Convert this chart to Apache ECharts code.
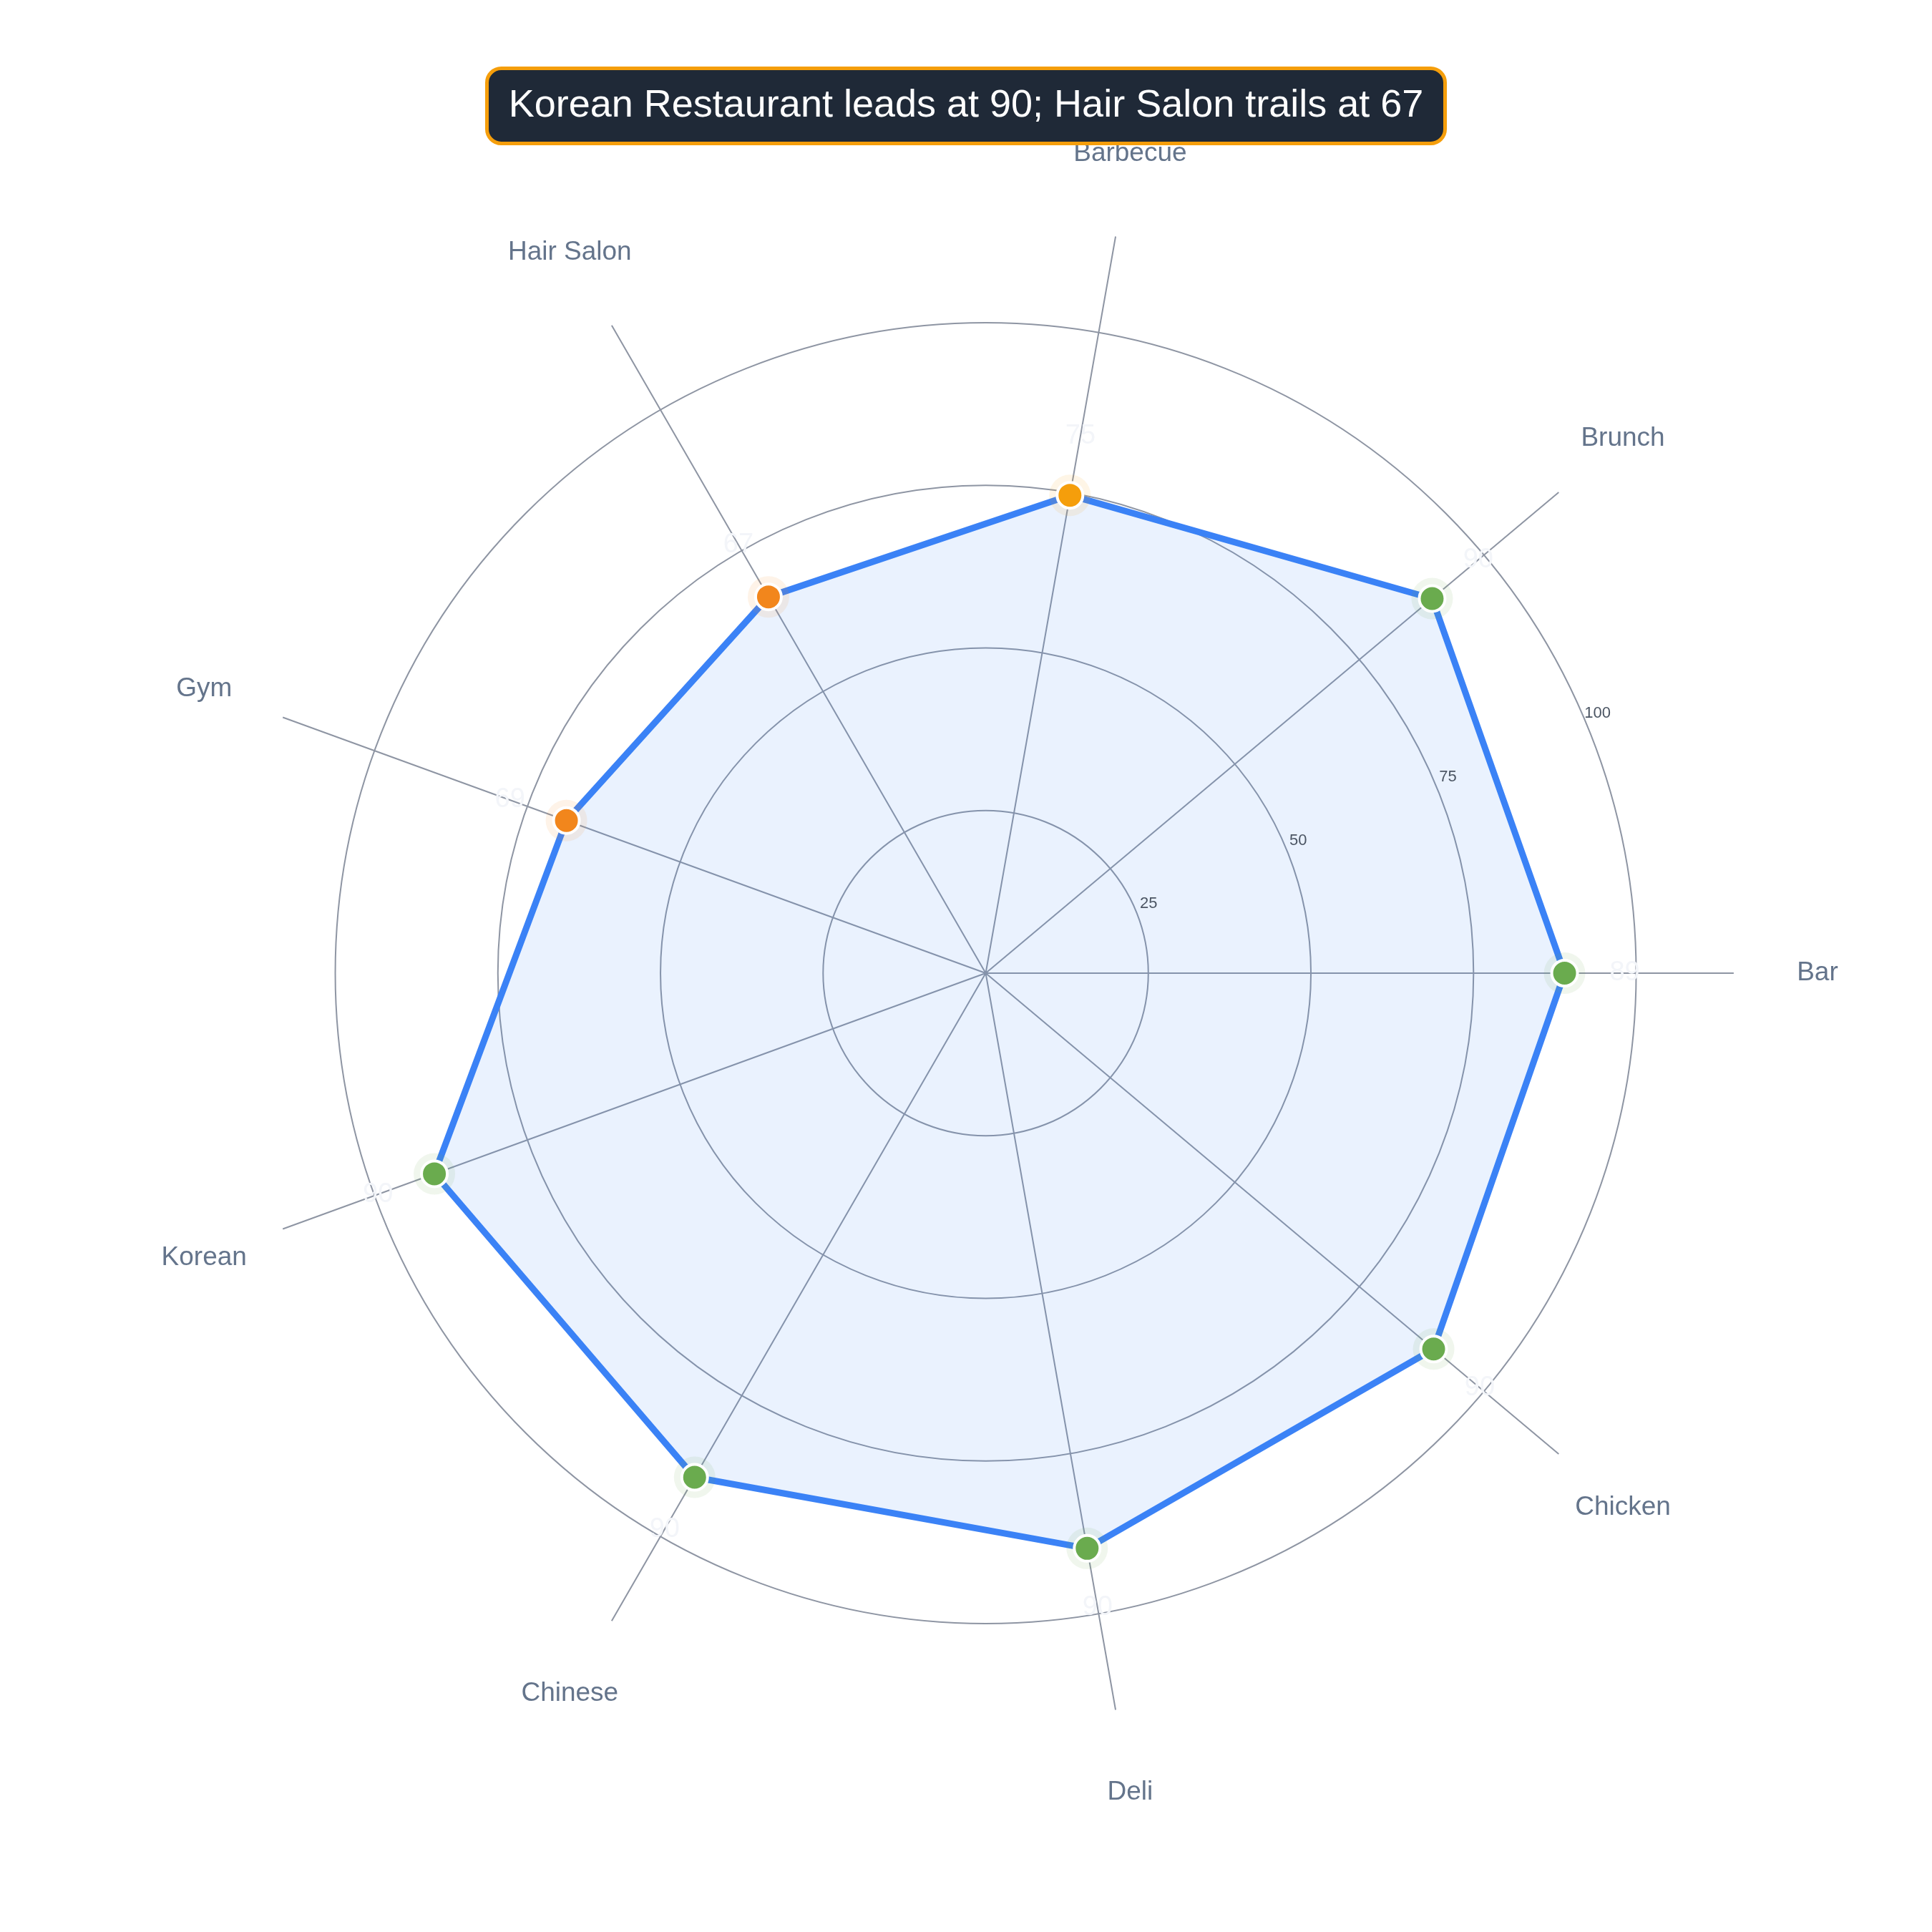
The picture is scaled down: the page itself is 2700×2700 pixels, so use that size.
<!DOCTYPE html>
<html>
<head>
<meta charset="utf-8">
<script src="https://cdn.jsdelivr.net/npm/echarts@6/dist/echarts.min.js"></script>
<style>
html,body{margin:0;padding:0;background:#fff;}
#chart{width:2700px;height:2700px;}
</style>
</head>
<body>
<div id="chart"></div>
<script>
const categories = ['Bar', 'Brunch', 'Barbecue', 'Hair Salon', 'Gym', 'Korean', 'Chinese', 'Deli', 'Chicken'];
const values = [89, 89.6, 74.6, 66.8, 68.6, 90.2, 89.5, 89.8, 89.9];
const radiusTicks = [25, 50, 75, 100];
const titleText = 'Korean Restaurant leads at 90; Hair Salon trails at 67';

const CENTER = ['51.02%', '50.37%'];
const R_RING = 909;     // radius of value 100
const AXIS_MAX = 115;   // spokes extend to this value
const R_SPOKE = R_RING * AXIS_MAX / 100;
const LABEL_RATIO = 1.112; // category labels centred just beyond the spokes
const RADIAL_LABEL_ANGLE = 23;
const FONT = '"Liberation Sans", Arial, Helvetica, sans-serif';

function markerColor(v) {
  if (v >= 80) return '#6AAB4E';
  if (v >= 70) return '#F59E0B';
  return '#F2861C';
}

const step = 360 / categories.length;
const pointData = values.map((v, i) => {
  const a = i * step * Math.PI / 180;
  return {
    value: [v, i],
    itemStyle: { color: markerColor(v) },
    label: { offset: [84 * Math.cos(a), -84 * Math.sin(a)] }
  };
});
const haloData = values.map((v, i) => ({ value: [v, i], itemStyle: { color: markerColor(v) } }));
const catLabelData = categories.map((c, i) => ({ value: [AXIS_MAX * LABEL_RATIO, i], name: c }));
const la = RADIAL_LABEL_ANGLE * Math.PI / 180;
const tickLabelData = radiusTicks.map(t => ({ value: [t, RADIAL_LABEL_ANGLE] }));

const chart = echarts.init(document.getElementById('chart'), null, { renderer: 'canvas' });
chart.setOption({
  backgroundColor: '#ffffff',
  animation: false,
  title: {
    text: titleText,
    left: 'center',
    top: 95,
    padding: [26, 30],
    backgroundColor: '#1F2937',
    borderColor: '#F59E0B',
    borderWidth: 5,
    borderRadius: 20,
    textStyle: { color: '#ffffff', fontSize: 54, fontWeight: 'normal', fontFamily: FONT }
  },
  polar: [
    { center: CENTER, radius: R_SPOKE },
    { center: CENTER, radius: R_RING }
  ],
  angleAxis: [
    {
      polarIndex: 0, type: 'category', data: categories, startAngle: 0, clockwise: false,
      boundaryGap: false,
      axisLine: { show: false }, axisTick: { show: false }, axisLabel: { show: false },
      splitLine: { show: true, lineStyle: { color: '#8E95A3', width: 2 } }
    },
    {
      polarIndex: 1, type: 'value', min: 0, max: 360, startAngle: 0, clockwise: false,
      axisLine: { show: false }, axisTick: { show: false }, axisLabel: { show: false },
      splitLine: { show: false }
    }
  ],
  radiusAxis: [
    {
      polarIndex: 0, type: 'value', min: 0, max: AXIS_MAX,
      axisLine: { show: false }, axisTick: { show: false }, axisLabel: { show: false },
      splitLine: { show: false }
    },
    {
      polarIndex: 1, type: 'value', min: 0, max: 100, interval: 25,
      axisLine: { show: false }, axisTick: { show: false }, axisLabel: { show: false },
      splitLine: { show: true, lineStyle: { color: '#8E95A3', width: 2 } }
    }
  ],
  radar: {
    center: CENTER,
    radius: R_RING,
    startAngle: 0,
    shape: 'polygon',
    indicator: categories.map(c => ({ name: c, min: 0, max: 100 })),
    axisName: { show: false },
    axisLine: { show: false },
    splitLine: { show: false },
    splitArea: { show: false },
    axisTick: { show: false },
    axisLabel: { show: false }
  },
  series: [
    {
      type: 'radar',
      symbol: 'none',
      z: 2,
      lineStyle: { color: '#3B82F6', width: 9 },
      areaStyle: { color: 'rgba(59,130,246,0.15)' },
      data: [{ value: values, name: 'Score' }]
    },
    {
      type: 'scatter',
      coordinateSystem: 'polar',
      polarIndex: 0,
      clip: false,
      symbolSize: 1,
      silent: true,
      z: 3,
      itemStyle: { color: 'rgba(0,0,0,0)', opacity: 1 },
      label: {
        show: true, position: 'inside', align: 'center', verticalAlign: 'middle',
        color: '#64748B', fontSize: 37, fontFamily: FONT,
        formatter: p => p.name
      },
      data: catLabelData
    },
    {
      type: 'scatter',
      coordinateSystem: 'polar',
      polarIndex: 1,
      symbolSize: 1,
      silent: true,
      z: 3,
      itemStyle: { color: 'rgba(0,0,0,0)', opacity: 1 },
      label: {
        show: true, position: 'inside', align: 'center', verticalAlign: 'middle',
        offset: [20 * Math.cos(la), -20 * Math.sin(la)],
        color: '#4B5563', fontSize: 22, fontFamily: FONT,
        formatter: p => String(p.value[0])
      },
      data: tickLabelData
    },
    {
      type: 'scatter',
      coordinateSystem: 'polar',
      polarIndex: 0,
      symbol: 'circle',
      symbolSize: 58,
      z: 3,
      itemStyle: { opacity: 0.1 },
      silent: true,
      data: haloData
    },
    {
      type: 'scatter',
      coordinateSystem: 'polar',
      polarIndex: 0,
      symbol: 'circle',
      symbolSize: 36,
      z: 4,
      itemStyle: { borderColor: '#ffffff', borderWidth: 4, opacity: 1 },
      label: {
        show: true,
        position: 'inside',
        color: '#F3F5F9',
        fontSize: 38,
        fontFamily: FONT,
        formatter: p => String(Math.round(p.value[0]))
      },
      data: pointData
    }
  ]
});
</script>
</body>
</html>
